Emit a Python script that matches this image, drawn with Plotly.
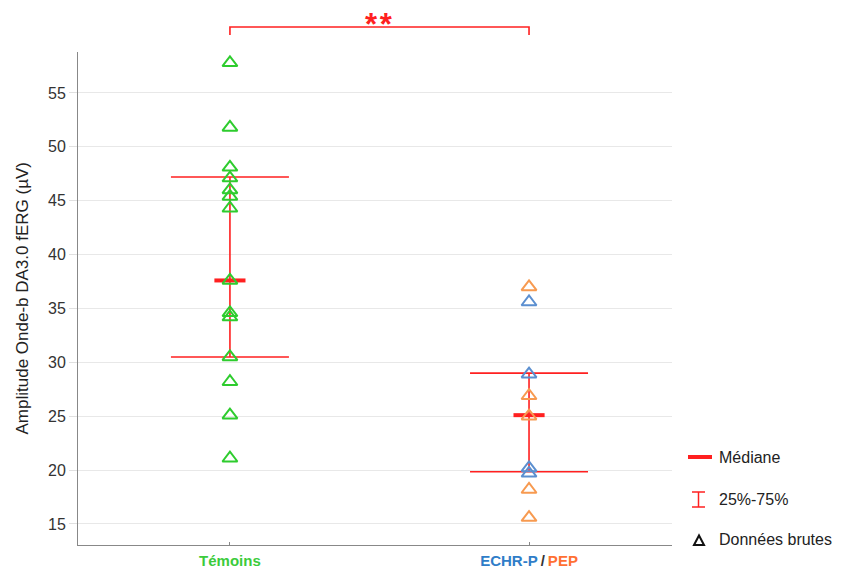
import plotly.graph_objects as go

# ---- data ----
groups = ["Témoins", "ECHR-P / PEP"]
temoins = [57.8, 51.8, 48.1, 47.1, 46.0, 45.4, 44.3, 37.6, 34.6, 34.2, 30.5, 28.2, 25.1, 21.1]
echr_p = [35.6, 28.9, 20.2, 19.7]
pep = [37.0, 26.9, 25.0, 18.2, 15.6]
medians = [37.6, 25.1]
q1 = [30.5, 19.85]
q3 = [47.2, 29.0]
y_ticks = [15, 20, 25, 30, 35, 40, 45, 50, 55]

GREEN = "#2ECC2E"
BLUE = "#5B8FD0"
ORANGE = "#F79A50"
RED = "#FF2020"
LBL_GREEN = "#3CCB3C"
LBL_BLUE = "#2F7DC8"
LBL_ORANGE = "#FF7033"
FONT = "Liberation Sans, Arial, sans-serif"

fig = go.Figure()

# interquartile bars
fig.add_trace(go.Scatter(
    x=[0, 1], y=medians, mode="markers",
    marker=dict(size=1, color="rgba(0,0,0,0)"),
    error_y=dict(type="data", symmetric=False,
                 array=[q3[i] - medians[i] for i in range(2)],
                 arrayminus=[medians[i] - q1[i] for i in range(2)],
                 color=RED, thickness=1.6, width=59),
    showlegend=False, hoverinfo="skip"))

# medians
for i in range(2):
    fig.add_trace(go.Scatter(
        x=[i - 0.052, i + 0.052], y=[medians[i], medians[i]], mode="lines",
        line=dict(color=RED, width=4), showlegend=False, hoverinfo="skip"))

# raw data
mk = dict(symbol="triangle-up-open", size=13, line=dict(width=2))
fig.add_trace(go.Scatter(x=[0] * len(temoins), y=temoins, mode="markers",
                         marker=dict(color=GREEN, **mk), showlegend=False))
fig.add_trace(go.Scatter(x=[1] * len(pep), y=pep, mode="markers",
                         marker=dict(color=ORANGE, **mk), showlegend=False))
fig.add_trace(go.Scatter(x=[1] * len(echr_p), y=echr_p, mode="markers",
                         marker=dict(color=BLUE, **mk), showlegend=False))

ticktext = [
    f"<b><span style='color:{LBL_GREEN}'>Témoins</span></b>",
    f"<b><span style='color:{LBL_BLUE}'>ECHR-P</span><span style='color:#333'>&#8201;/&#8201;</span><span style='color:{LBL_ORANGE}'>PEP</span></b>",
]

# page-pixel -> paper helpers (plot area spans x 78..672, y 52..545 on the page)
def px2x(p):
    return (p - 78) / 594.0

def px2y(p):
    return (545 - p) / 493.0

shapes = [
    # significance bracket
    dict(type="path", xref="x", yref="paper",
         path=f"M 0 {px2y(35)} L 0 {px2y(27)} L 1 {px2y(27)} L 1 {px2y(35)}",
         line=dict(color=RED, width=1.6)),
]

shapes.append(dict(type="line", xref="paper", yref="paper",
                   x0=px2x(688), x1=px2x(712), y0=px2y(457), y1=px2y(457),
                   line=dict(color=RED, width=4)))
# I-bar
shapes.append(dict(type="line", xref="paper", yref="paper",
                   x0=px2x(698.5), x1=px2x(698.5), y0=px2y(492), y1=px2y(507),
                   line=dict(color=RED, width=1.5)))
for yy in (492, 507):
    shapes.append(dict(type="line", xref="paper", yref="paper",
                       x0=px2x(692), x1=px2x(705), y0=px2y(yy), y1=px2y(yy),
                       line=dict(color=RED, width=1.5)))
# triangle
shapes.append(dict(type="path", xref="paper", yref="paper",
                   path=f"M {px2x(694)} {px2y(545)} L {px2x(704)} {px2y(545)} L {px2x(699)} {px2y(535.5)} Z",
                   line=dict(color="#111", width=2)))

legend_font = dict(size=16, color="#222", family=FONT)
annotations = [
    dict(text="<b>*&#8202;*</b>", x=0.5, xref="x", y=px2y(24), yref="paper",
         yanchor="middle", showarrow=False, font=dict(color=RED, size=31, family=FONT)),
    dict(text="Médiane", x=px2x(717), y=px2y(457), xref="paper", yref="paper",
         xanchor="left", yanchor="middle", showarrow=False, font=legend_font),
    dict(text="25%-75%", x=px2x(717), y=px2y(499), xref="paper", yref="paper",
         xanchor="left", yanchor="middle", showarrow=False, font=legend_font),
    dict(text="Données brutes", x=px2x(717), y=px2y(539), xref="paper", yref="paper",
         xanchor="left", yanchor="middle", showarrow=False, font=legend_font),
    dict(text="Amplitude Onde-b DA3.0 fERG (µV)", x=px2x(22), xref="paper", xanchor="center",
         y=0.5, yref="paper", yanchor="middle", textangle=-90, showarrow=False,
         font=dict(size=17, color="#222", family=FONT)),
]

# the page body has an 8px margin, so margins are offset to keep the plot
# area at page pixels x 78..672, y 52..545
fig.update_layout(
    width=841, height=571,
    margin=dict(l=70, r=177, t=44, b=34),
    plot_bgcolor="white", paper_bgcolor="white",
    font=dict(family=FONT, size=16, color="#333"),
    shapes=shapes, annotations=annotations,
    xaxis=dict(range=[-0.508, 1.478], tickvals=[0, 1], ticktext=ticktext,
               showgrid=False, zeroline=False, showline=True, linecolor="#888",
               linewidth=1, ticks="inside", ticklen=3, tickcolor="#888",
               automargin=False, ticklabelstandoff=2,
               tickfont=dict(size=15, family=FONT)),
    yaxis=dict(range=[13.05, 58.8], tickvals=y_ticks, showgrid=True,
               gridcolor="#E8E8E8", gridwidth=1, zeroline=False,
               showline=True, linecolor="#888", linewidth=1,
               ticks="outside", ticklen=8, tickcolor="#E0E0E0", automargin=False,
               tickfont=dict(size=16, color="#333")),
)

fig.write_html("out.html")
